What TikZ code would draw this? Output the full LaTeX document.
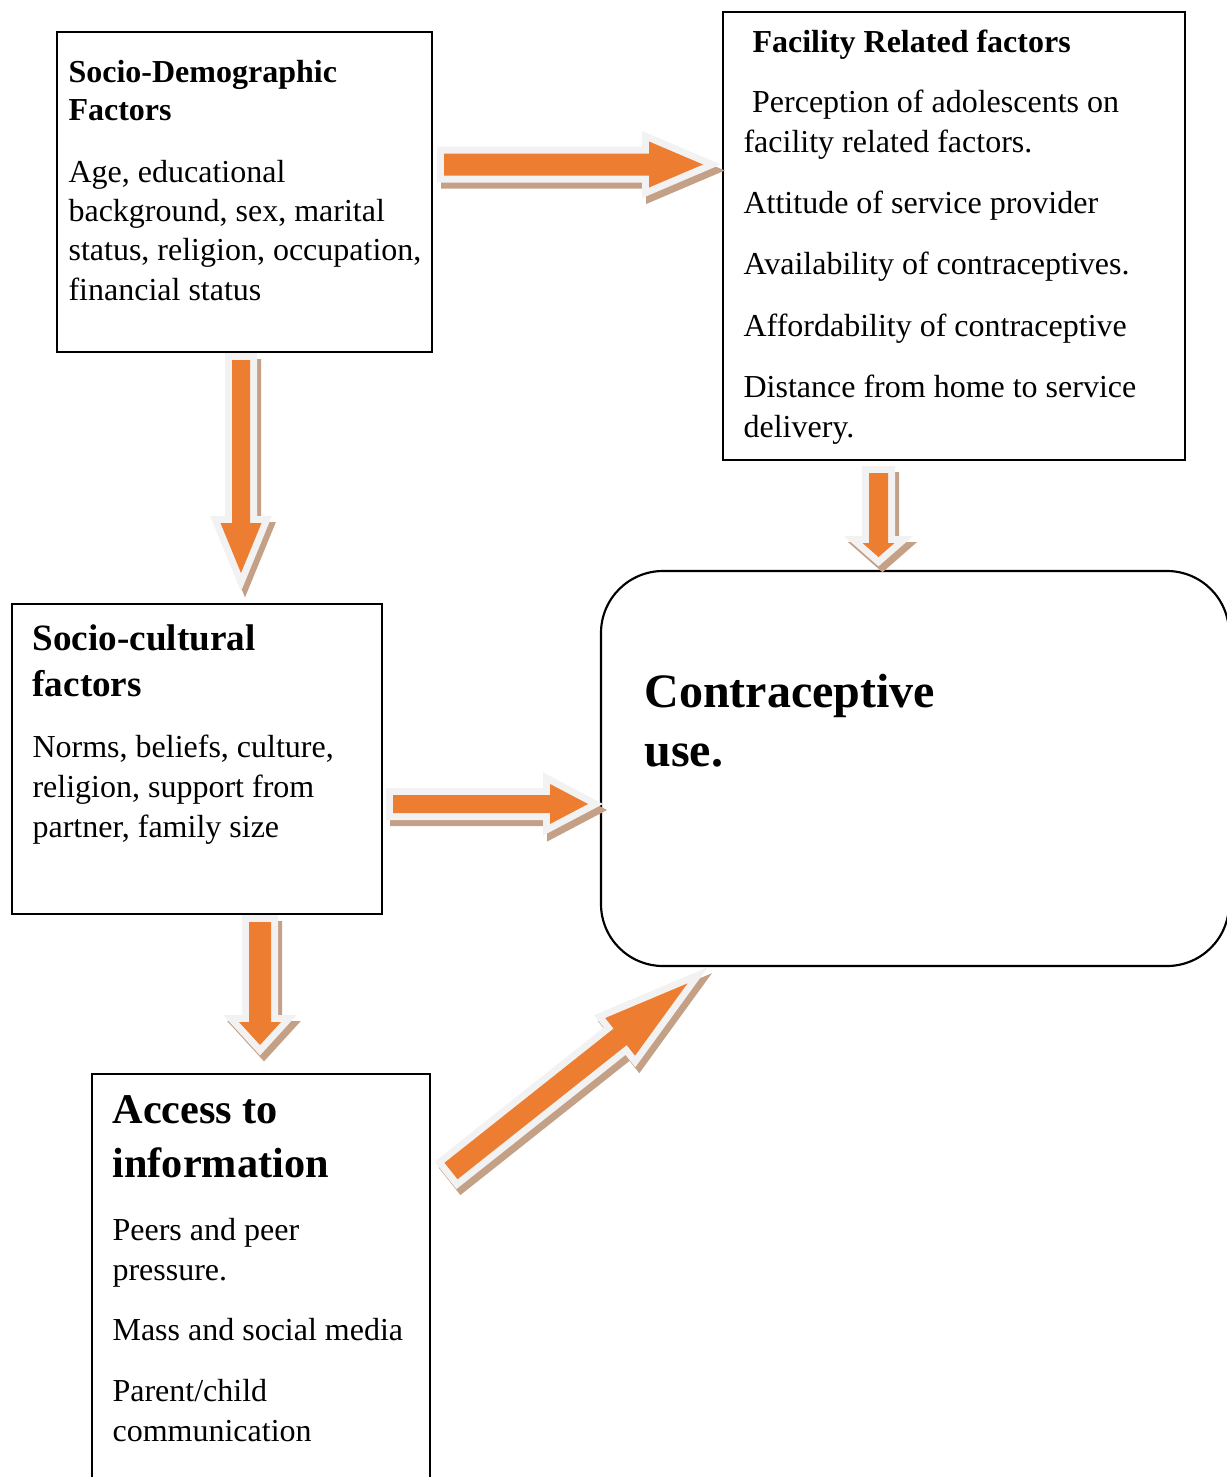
\documentclass[tikz,border=0pt]{standalone}
\usepackage{fontspec}
\setmainfont{Liberation Serif}
\usetikzlibrary{calc,fit}
\definecolor{arroworange}{HTML}{ED7D31}
\definecolor{arrowrimgrey}{HTML}{F2F2F2}
\definecolor{arrowshade}{HTML}{C4A087}
\def\pxu{0.35pt}
\def\arrowlayer[#1](#2)(#3)(#4:#5:#6)[#7]{\path[#1] let \p1=($(#3)-(#2)$), \n1={atan2(\y1,\x1)}, \n2={veclen(\x1,\y1)}, \p2=($(#2)+(#7)$), \p3=($(\p2)+(\n1:\n2-#6*\pxu)$) in ($(\p2)+(\n1+90:#4*\pxu)$) -- ($(\p3)+(\n1+90:#4*\pxu)$) -- ($(\p3)+(\n1+90:#5*\pxu)$) -- ($(\p2)+(\n1:\n2)$) -- ($(\p3)+(\n1-90:#5*\pxu)$) -- ($(\p3)+(\n1-90:#4*\pxu)$) -- ($(\p2)+(\n1-90:#4*\pxu)$) -- cycle;}
\def\fatarrow(#1)(#2)(#3:#4:#5){\arrowlayer[arrowshadow](#1)(#2)(#3:#4:#5)[4,6]\arrowlayer[arrowrim](#1)(#2)(#3:#4:#5)[0,0]\arrowlayer[arrowbody](#1)(#2)(#3:#4:#5)[0,0]}
\tikzset{
	factorbox/.style={draw=black, line width=0.75pt, inner sep=0pt},
	boxtext/.style={anchor=base west, inner sep=0pt, align=flush left, text width=170pt},
	arrowshadow/.style={fill=arrowshade, draw=arrowshade, line width=4.9pt, line join=miter, miter limit=10},
	arrowrim/.style={fill=arrowrimgrey, draw=arrowrimgrey, line width=4.9pt, line join=miter, miter limit=10},
	arrowbody/.style={fill=arroworange}
}
\begin{document}
\begin{tikzpicture}[x=0.35pt, y=-0.35pt]
				\path[use as bounding box] (0,0) rectangle (1227,1477);
				\clip (0,0) rectangle (1227,1477);
				
				\node[factorbox, fit={(57,32) (432,352)}] (socdem) {};
				\node[boxtext, font=\fontsize{11.2}{13.5}\selectfont\bfseries] (sdhead) at (68,82) {Socio-Demographic\\ Factors};
				\node[boxtext, font=\fontsize{11.2}{13.8}\selectfont] (sdbody) at (68,182) {Age, educational\\ background, sex, marital\\ status, religion, occupation,\\ financial status};
				
				\node[factorbox, fit={(723,12) (1185,460)}] (facility) {};
				\node[boxtext, font=\fontsize{11.2}{13.5}\selectfont\bfseries] (frhead) at (752,52) {Facility Related factors};
				\node[boxtext, font=\fontsize{11.2}{14}\selectfont] (frbody) at (743,112) {\hspace*{3pt}Perception of adolescents on\\ facility related factors.\\[7.6pt] Attitude of service provider\\[7.4pt] Availability of contraceptives.\\[7.4pt] Affordability of contraceptive\\[7.6pt] Distance from home to service\\ delivery.};
				
				\node[factorbox, fit={(12,604) (382,914)}] (soccult) {};
				\node[boxtext, font=\fontsize{13}{16.1}\selectfont\bfseries] (schead) at (32,650) {Socio-cultural\\ factors};
				\node[boxtext, font=\fontsize{11.2}{14}\selectfont] (scbody) at (32,757) {Norms, beliefs, culture,\\ religion, support from\\ partner, family size};
				
				\node[factorbox, fit={(92,1074) (430,1500)}] (access) {};
				\node[boxtext, font=\fontsize{14.8}{18.9}\selectfont\bfseries] (aihead) at (112,1123) {Access to\\ information};
				\node[boxtext, font=\fontsize{11.2}{14}\selectfont] (aibody) at (112,1240) {Peers and peer\\ pressure.\\[7pt] Mass and social media\\[7.4pt] Parent/child\\ communication};
				
				\node[factorbox, rounded corners=21.7pt, fit={(601,571) (1229,966)}] (conuse) {};
				\node[boxtext, font=\fontsize{16.8}{20.7}\selectfont\bfseries] (cuhead) at (644,707) {Contraceptive\\ use.};
				
				\coordinate (sdfrtail) at (444,164.5);
				\coordinate (sdfrtip) at (703,164.5);
				\coordinate (sdsctail) at (241,360);
				\coordinate (sdsctip) at (241,573);
				\coordinate (frcutail) at (878.5,473);
				\coordinate (frcutip) at (878.5,557);
				\coordinate (sccutail) at (393,804);
				\coordinate (sccutip) at (588,804);
				\coordinate (scaitail) at (260,922);
				\coordinate (scaitip) at (260,1045);
				\coordinate (aicutail) at (451,1171);
				\coordinate (aicutip) at (688,983);
				
				\fatarrow(sdfrtail)(sdfrtip)(11:23:54)
				\fatarrow(sdsctail)(sdsctip)(9:20.5:50)
				\fatarrow(frcutail)(frcutip)(9.5:16:14)
				\fatarrow(sccutail)(sccutip)(9:20:38)
				\fatarrow(scaitail)(scaitip)(11:21:23)
				\fatarrow(aicutail)(aicutip)(10.5:24:86)
			\end{tikzpicture}
\end{document}
